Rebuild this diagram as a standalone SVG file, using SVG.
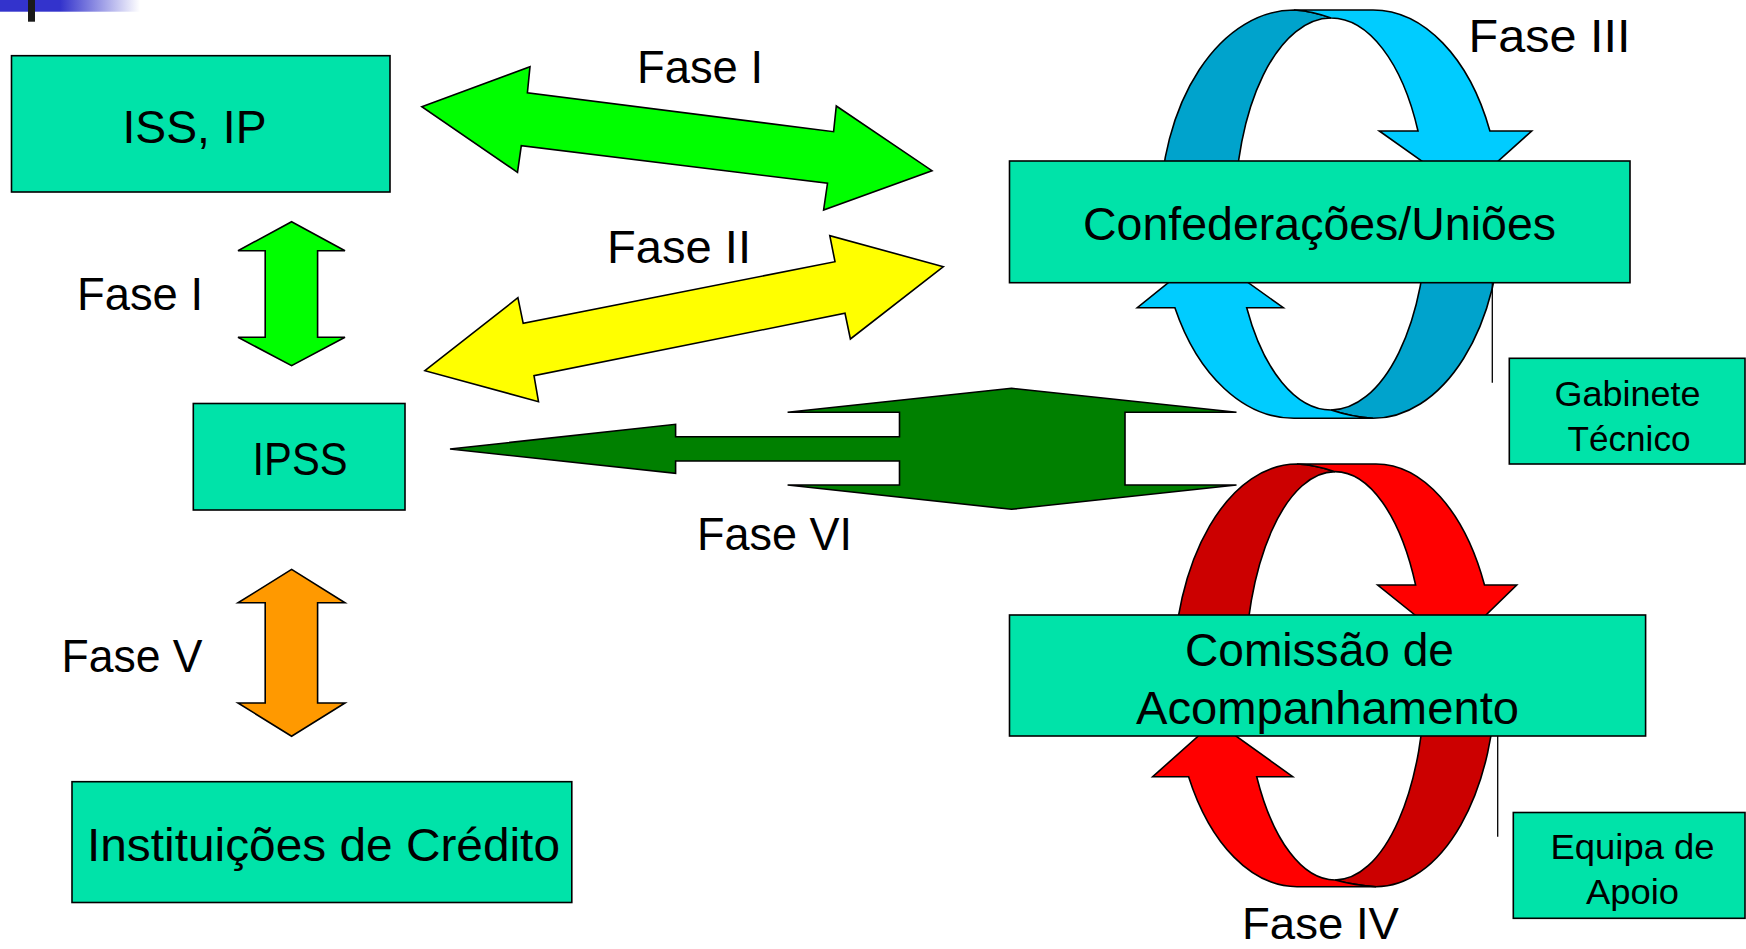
<svg xmlns="http://www.w3.org/2000/svg" width="1746" height="949" viewBox="0 0 1746 949">
<defs>
<linearGradient id="bar" x1="0" y1="0" x2="140" y2="0" gradientUnits="userSpaceOnUse">
<stop offset="0" stop-color="#3333CC"/><stop offset="0.43" stop-color="#3333CC"/><stop offset="1" stop-color="#FFFFFF"/>
</linearGradient>
<style>
.box{fill:#00E3A9;stroke:#000;stroke-width:1.6}
.big{font-family:"Liberation Sans",Arial,sans-serif;font-size:46px;fill:#000}
.sm{font-family:"Liberation Sans",Arial,sans-serif;font-size:35px;fill:#000}
.ar{stroke:#000;stroke-width:1.6;stroke-linejoin:miter}
.ln{stroke:#000;stroke-width:1.3;fill:none}
</style>
</defs>
<rect width="1746" height="949" fill="#FFFFFF"/>
<rect x="0" y="0" width="140" height="11.7" fill="url(#bar)"/>
<rect x="28" y="0" width="7" height="21.7" fill="#1A1A1A"/>

<g id="connectors">
<polygon class="ar" fill="#00FF00" points="421.8,106.7 530,66.7 527.4,92.7 833.6,131.7 836.3,106 932,170.7 823.6,210 827.5,183.3 521.3,145.7 517.5,172.3"/>
<polygon class="ar" fill="#FFFF00" points="943.4,266.7 829.8,235.7 835,261.7 523.2,323.3 517.9,297.7 424.9,370.7 538.5,401.7 534,375.7 845,313.3 850.4,339"/>
<polygon class="ar" fill="#00FF00" points="291.6,221.7 345,250.7 317.6,250.7 317.6,337.3 345,337.3 291.6,365.7 238,337.3 265.2,337.3 265.2,250.7 238,250.7"/>
<polygon class="ar" fill="#FF9900" points="291.6,569.4 345,602.8 317.6,602.8 317.6,703 345,703 291.6,736.3 238,703 265.2,703 265.2,602.8 238,602.8"/>
<polygon class="ar" fill="#008000" points="450,449 675.6,424.3 675.6,436.7 899.5,436.7 899.5,412.3 787.6,412.3 1011.5,388.3 1236.5,412.3 1125,412.3 1125,485 1236.5,485 1011.5,509.3 787.6,485 899.5,485 899.5,461 675.6,461 675.6,473.3"/>

<g id="ring-blue">
<path class="ar" fill="#00A3CC" d="M1160,214 A134 204.15 0 0 1 1294,10 Q1312,11 1331,18 A96 196 0 0 0 1235,214 Z"/>
<path class="ar" fill="#00CCFF" d="M1294,10 L1373,10 A128 204.15 0 0 1 1489.9,131 L1531.7,131 L1464.5,191.3 L1379.3,131 L1418,131 A96 196 0 0 0 1331,18 Q1312,11 1294,10 Z"/>
<path class="ar" fill="#00A3CC" d="M1501,214 A128 204.15 0 0 1 1373,418.3 Q1352,417 1331,410 A96 196 0 0 0 1427,214 Z"/>
<path class="ar" fill="#00CCFF" d="M1174.9,307.7 A134 204.15 0 0 0 1294,418.3 L1373,418.3 Q1352,417 1331,410 A96 196 0 0 1 1246.7,307.7 L1283.3,307.7 L1205.9,252.4 L1137.3,307.7 Z"/>
</g>
<g id="ring-red">
<path class="ar" fill="#CC0000" d="M1173.5,675.35 A123.5 211.35 0 0 1 1297,464 Q1316,465 1335,471.65 A90 204.2 0 0 0 1245,675.85 Z"/>
<path class="ar" fill="#FF0000" d="M1297,464 L1376,464 A120 211.35 0 0 1 1484.5,585 L1516.7,585 L1453.9,646.3 L1377.7,585 L1415.6,585 A90 204.2 0 0 0 1335,471.65 Q1316,465 1297,464 Z"/>
<path class="ar" fill="#CC0000" d="M1496,675.35 A120 211.35 0 0 1 1376,886.7 Q1355,885.5 1335,880.05 A90 204.2 0 0 0 1425,675.85 Z"/>
<path class="ar" fill="#FF0000" d="M1188.6,776.7 A123.5 211.35 0 0 0 1297,886.7 L1376,886.7 Q1355,885.5 1335,880.05 A90 204.2 0 0 1 1256.7,776.7 L1292.7,776.7 L1215.1,721 L1152.7,776.7 Z"/>
</g>
<line class="ln" x1="1492.3" y1="282.7" x2="1492.3" y2="382.7"/>
<line class="ln" x1="1497.7" y1="736" x2="1497.7" y2="836.7"/>
</g>

<g id="labels">
<text class="big" x="637" y="83.3" textLength="126" lengthAdjust="spacingAndGlyphs">Fase I</text>
<text class="big" x="607" y="263.3" textLength="144" lengthAdjust="spacingAndGlyphs">Fase II</text>
<text class="big" x="77" y="310" textLength="126" lengthAdjust="spacingAndGlyphs">Fase I</text>
<text class="big" x="1468.5" y="51.7" textLength="162" lengthAdjust="spacingAndGlyphs">Fase III</text>
<text class="big" x="697" y="550" textLength="155" lengthAdjust="spacingAndGlyphs">Fase VI</text>
<text class="big" x="61.5" y="672" textLength="141" lengthAdjust="spacingAndGlyphs">Fase V</text>
<text class="big" x="1242" y="939" style="font-size:44px" textLength="157" lengthAdjust="spacingAndGlyphs">Fase IV</text>
</g>

<g id="node-iss">
<rect class="box" x="11.5" y="55.7" width="378.5" height="136.3"/>
<text class="big" x="122.5" y="142.7" textLength="144" lengthAdjust="spacingAndGlyphs">ISS, IP</text>
</g>
<g id="node-ipss">
<rect class="box" x="193.3" y="403.5" width="211.7" height="106.5"/>
<text class="big" x="252.5" y="475" textLength="95" lengthAdjust="spacingAndGlyphs">IPSS</text>
</g>
<g id="node-instituicoes">
<rect class="box" x="72" y="781.7" width="499.8" height="120.8"/>
<text class="big" x="87" y="860.8" textLength="473" lengthAdjust="spacingAndGlyphs">Instituições de Crédito</text>
</g>
<g id="node-confederacoes">
<rect class="box" x="1009.5" y="161" width="620.5" height="121.7"/>
<text class="big" x="1083" y="240" textLength="473" lengthAdjust="spacingAndGlyphs">Confederações/Uniões</text>
</g>
<g id="node-gabinete">
<rect class="box" x="1509.3" y="358.3" width="235.7" height="105.7"/>
<text class="sm" x="1554.5" y="405.7" textLength="146" lengthAdjust="spacingAndGlyphs">Gabinete</text>
<text class="sm" x="1567.5" y="450.7" textLength="123" lengthAdjust="spacingAndGlyphs">Técnico</text>
</g>
<g id="node-comissao">
<rect class="box" x="1009.5" y="615" width="636.1" height="121"/>
<text class="big" x="1185" y="666" textLength="269" lengthAdjust="spacingAndGlyphs">Comissão de</text>
<text class="big" x="1136" y="724" textLength="383" lengthAdjust="spacingAndGlyphs">Acompanhamento</text>
</g>
<g id="node-equipa">
<rect class="box" x="1513.3" y="812.5" width="231.7" height="105.8"/>
<text class="sm" x="1550.5" y="859" textLength="164" lengthAdjust="spacingAndGlyphs">Equipa de</text>
<text class="sm" x="1586" y="904.3" textLength="93" lengthAdjust="spacingAndGlyphs">Apoio</text>
</g>
</svg>
